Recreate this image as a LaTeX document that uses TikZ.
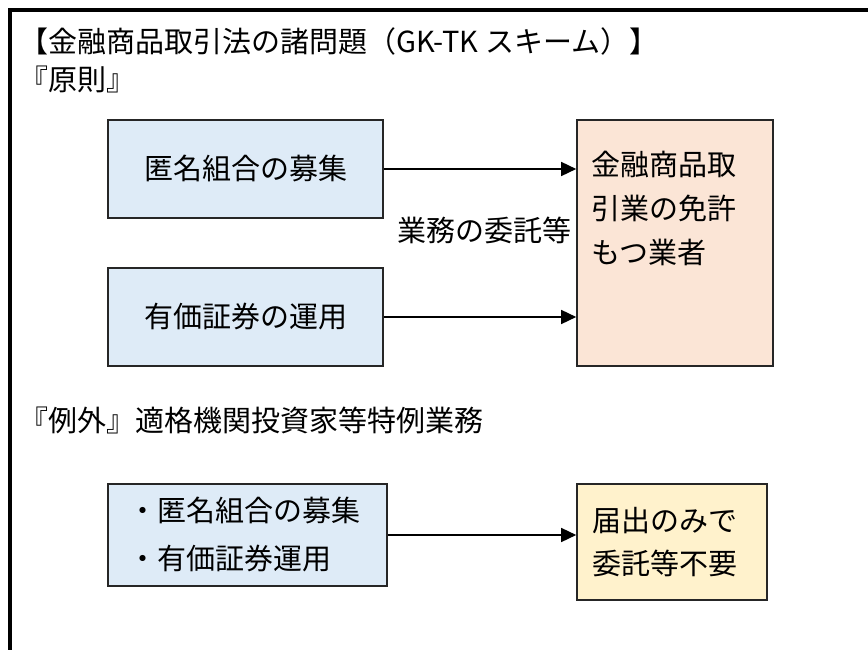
\documentclass[tikz,border=0pt]{standalone}
\usepackage{fontspec}
\setmainfont{Noto Sans CJK JP}
\usetikzlibrary{arrows.meta}
\definecolor{bluefill}{HTML}{DEEBF7}
\definecolor{peachfill}{HTML}{FBE5D6}
\definecolor{yellowfill}{HTML}{FFF2CC}
\begin{document}
\begin{tikzpicture}[x=1pt,y=-1pt,
  box/.style={draw=black!85, line width=1.6pt, inner sep=0pt},
  txt/.style={inner sep=0pt, font=\fontsize{29}{44}\selectfont},
  arr/.style={line width=1.5pt, -{Triangle[length=15pt,width=14pt]}}]
\useasboundingbox (0,0) rectangle (868,650);
% frame
\draw[line width=4pt] (10,650) -- (10,10) -- (868,10);
% headings
\node[txt, anchor=west] (title) at (19,41) {【金融商品取引法の諸問題（GK-TK スキーム）】};
\node[txt, anchor=west] (gensoku) at (19,79) {『原則』};
\node[txt, anchor=west] (reigai) at (19,420) {『例外』適格機関投資家等特例業務};
% boxes
\node[box, fill=bluefill, minimum width=275pt, minimum height=98pt, txt] (b1) at (245.5,169) {匿名組合の募集};
\node[box, fill=bluefill, minimum width=275pt, minimum height=98pt, txt] (b2) at (245.5,317) {有価証券の運用};
\node[box, fill=peachfill, minimum width=196pt, minimum height=246pt] (b3) at (675,243) {};
\node[txt, anchor=north west, align=left] (b3t) at ([xshift=15pt,yshift=-32pt]b3.north west) {金融商品取\\引業の免許\\もつ業者};
\node[box, fill=bluefill, minimum width=279pt, minimum height=102pt, txt, text width=239pt, align=left, font=\fontsize{29}{48}\selectfont] (b4) at (247.5,535) {・匿名組合の募集\\・有価証券運用};
\node[box, fill=yellowfill, minimum width=190pt, minimum height=116pt, txt, text width=160pt, align=left, font=\fontsize{29}{43}\selectfont] (b5) at (672,542) {届出のみで\\委託等不要};
% arrows
\draw[arr] (b1.east) -- (b1.east -| b3.west);
\draw[arr] (b2.east) -- (b2.east -| b3.west);
\draw[arr] (b4.east) -- (b4.east -| b5.west);
\node[txt] (lbl) at (484,230) {業務の委託等};
\end{tikzpicture}
\end{document}
